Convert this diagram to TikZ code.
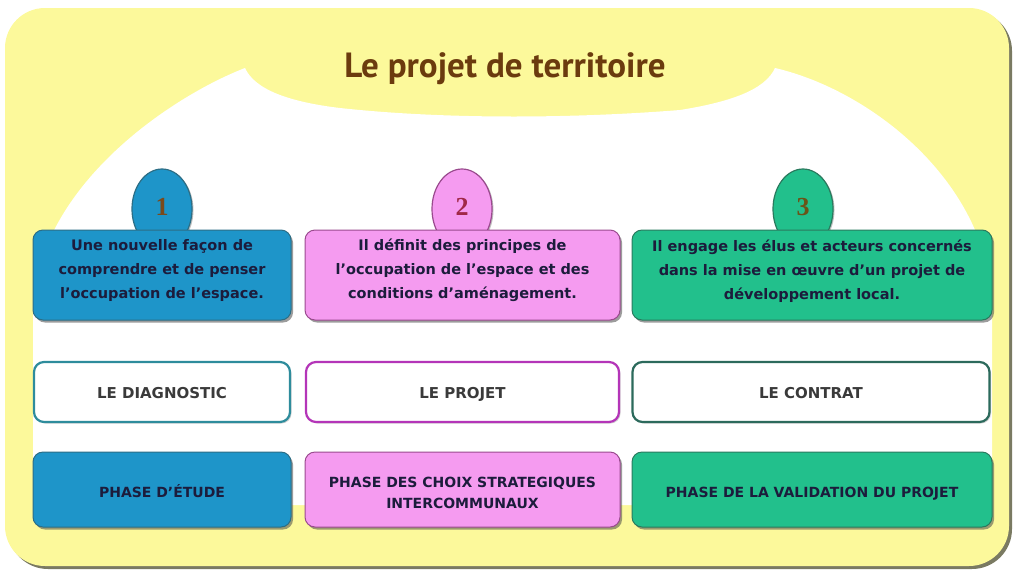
\documentclass[tikz,border=0pt]{standalone}
\usepackage{fontspec}
\setmainfont{DejaVu Sans}
\newfontfamily\titlefont{PT Sans}
\newfontfamily\numfont{Liberation Serif}
\usetikzlibrary{shapes.geometric,shadows}
\definecolor{frameyellow}{HTML}{FCF99B}
\definecolor{frameshadow}{HTML}{7A7A62}
\definecolor{cblue}{HTML}{1E95C9}
\definecolor{cpink}{HTML}{F59BF0}
\definecolor{cgreen}{HTML}{22C08C}
\definecolor{bblue}{HTML}{2C6E86}
\definecolor{bpink}{HTML}{9A4A8E}
\definecolor{bgreen}{HTML}{2A7A5E}
\definecolor{lblue}{HTML}{2E8C9C}
\definecolor{lpink}{HTML}{B435B8}
\definecolor{lgreen}{HTML}{2C6A5C}
\definecolor{titlebrown}{HTML}{6B3B0E}
\definecolor{txtdark}{HTML}{1C1C3C}
\definecolor{txtgray}{HTML}{3A3A3A}
\definecolor{nbrown}{HTML}{7A4A1C}
\definecolor{nred}{HTML}{A02848}
\definecolor{nolive}{HTML}{6A5418}
\tikzset{
  shad/.style={drop shadow={shadow xshift=2pt,shadow yshift=-2.5pt,opacity=0.55,fill=black!70}},
  descbox/.style={rectangle,rounded corners=10pt,fill=#1,line width=1pt,shad,
    minimum height=90pt},
  desctext/.style={align=center,text=txtdark,inner sep=0pt,
    font=\bfseries\fontsize{14.5}{24}\selectfont},
  namebox/.style={rectangle,rounded corners=10pt,fill=white,draw=#1,line width=2.2pt,
    drop shadow={shadow xshift=1.5pt,shadow yshift=-1.5pt,opacity=0.35},minimum height=60pt},
  nametext/.style={text=txtgray,inner sep=0pt,text height=11pt,text depth=0pt,
    font=\bfseries\fontsize{15}{16}\selectfont},
  phasebox/.style={rectangle,rounded corners=10pt,fill=#1,line width=1pt,shad,minimum height=75pt},
  phasetext/.style={align=center,text=txtdark,inner sep=0pt,
    font=\bfseries\fontsize{14}{21}\selectfont},
  tab/.style={ellipse,fill=#1,line width=1.2pt,minimum width=60pt,minimum height=80pt,inner sep=0pt,
    drop shadow={shadow xshift=1.5pt,shadow yshift=-1pt,opacity=0.5}},
  numtext/.style={font=\numfont\bfseries\fontsize{26}{26}\selectfont,inner sep=0pt},
}
\begin{document}
\begin{tikzpicture}[x=1pt,y=-1pt]
\useasboundingbox (0,0) rectangle (1024,576);
% outer frame
\fill[frameshadow,rounded corners=40pt] (8,11) rectangle (1012,569);
\fill[frameyellow,rounded corners=40pt] (5,8) rectangle (1009,566);
% white inner area
\fill[white] (33,505) -- (33,300)
  .. controls (45,180) and (175,95) .. (245,68)
  .. controls (255,90) and (290,102) .. (340,108)
  .. controls (450,120) and (580,118) .. (680,110)
  .. controls (730,102) and (765,90) .. (775,68)
  .. controls (870,90) and (985,180) .. (992,300)
  -- (992,505) -- cycle;
% title
\node[font=\titlefont\bfseries\fontsize{35}{36}\selectfont,text=titlebrown] (title) at (505,69) {Le projet de territoire};
% tabs
\node[tab=cblue,draw=bblue] (t1) at (162,209) {};
\node[tab=cpink,draw=bpink] (t2) at (462,209) {};
\node[tab=cgreen,draw=bgreen] (t3) at (803,209) {};
\node[numtext,text=nbrown] (n1l) at (162,207) {1};
\node[numtext,text=nred] (n2l) at (462,207) {2};
\node[numtext,text=nolive] (n3l) at (803,207) {3};
% description boxes
\node[descbox=cblue,draw=bblue,minimum width=258pt] (d1) at (162,275) {};
\node[descbox=cpink,draw=bpink,minimum width=315pt] (d2) at (462.5,275) {};
\node[descbox=cgreen,draw=bgreen,minimum width=360pt] (d3) at (812,275) {};
\node[desctext] (d1t) at (162,270)
  {Une nouvelle façon de\\comprendre et de penser\\l’occupation de l’espace.};
\node[desctext] (d2t) at (462.5,270)
  {Il définit des principes de\\l’occupation de l’espace et des\\conditions d’aménagement.};
\node[desctext] (d3t) at (812,271)
  {Il engage les élus et acteurs concernés\\dans la mise en œuvre d’un projet de\\développement local.};
% name boxes
\node[namebox=lblue,minimum width=256pt] (n1) at (162,392) {};
\node[namebox=lpink,minimum width=313pt] (n2) at (462.5,392) {};
\node[namebox=lgreen,minimum width=357pt] (n3) at (811,392) {};
\node[nametext] (n1t) at (162,393) {LE DIAGNOSTIC};
\node[nametext] (n2t) at (462.5,393) {LE PROJET};
\node[nametext] (n3t) at (811,393) {LE CONTRAT};
% phase boxes
\node[phasebox=cblue,draw=bblue,minimum width=258pt] (p1) at (162,489.5) {};
\node[phasebox=cpink,draw=bpink,minimum width=315pt] (p2) at (462.5,489.5) {};
\node[phasebox=cgreen,draw=bgreen,minimum width=360pt] (p3) at (812,489.5) {};
\node[phasetext,text height=10pt,text depth=0pt] (p1t) at (162,492) {PHASE D’ÉTUDE};
\node[phasetext] (p2t) at (462.5,493) {PHASE DES CHOIX STRATEGIQUES\\INTERCOMMUNAUX};
\node[phasetext,text height=10pt,text depth=0pt] (p3t) at (812,492) {PHASE DE LA VALIDATION DU PROJET};
\end{tikzpicture}
\end{document}
